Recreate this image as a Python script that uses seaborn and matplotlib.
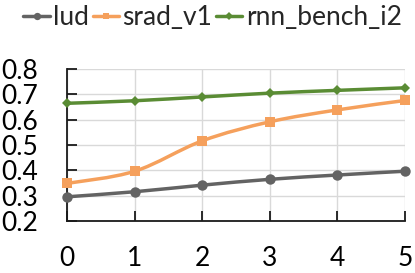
import numpy as np
import pandas as pd
import seaborn as sns
import matplotlib.pyplot as plt
from matplotlib.path import Path
from matplotlib.patches import PathPatch
from matplotlib.lines import Line2D

# values
steps = [0, 1, 2, 3, 4, 5]
lud = [0.296, 0.316, 0.342, 0.365, 0.382, 0.397]
srad_v1 = [0.349, 0.397, 0.517, 0.592, 0.639, 0.676]
rnn_bench_i2 = [0.665, 0.675, 0.690, 0.705, 0.716, 0.726]
series_names = ['lud', 'srad_v1', 'rnn_bench_i2']
y_ticks = [0.2, 0.3, 0.4, 0.5, 0.6, 0.7, 0.8]

colors = {'lud': '#636363', 'srad_v1': '#F5A05C', 'rnn_bench_i2': '#5A8C34'}
markers = {'lud': 'o', 'srad_v1': 's', 'rnn_bench_i2': 'D'}
msizes = {'lud': 7.5, 'srad_v1': 7.0, 'rnn_bench_i2': 5.5}

df = pd.DataFrame({'step': steps * 3,
                   'value': lud + srad_v1 + rnn_bench_i2,
                   'series': np.repeat(series_names, len(steps))})

sns.set_theme(style='white')
plt.rcParams['font.family'] = ['Lato', 'DejaVu Sans']

fig = plt.figure(figsize=(4.15, 2.73), dpi=100)
ax = fig.add_axes([0.162, 0.19, 0.814, 0.557])


def smooth_path(xs, ys):
    # Excel-style smoothed line (Catmull-Rom as cubic bezier)
    pts = np.column_stack([xs, ys]).astype(float)
    verts = [pts[0]]
    codes = [Path.MOVETO]
    n = len(pts)
    for i in range(n - 1):
        p0 = pts[max(i - 1, 0)]
        p1 = pts[i]
        p2 = pts[i + 1]
        p3 = pts[min(i + 2, n - 1)]
        c1 = p1 + (p2 - p0) / 6.0
        c2 = p2 - (p3 - p1) / 6.0
        verts += [c1, c2, p2]
        codes += [Path.CURVE4] * 3
    return Path(verts, codes)


for name in series_names:
    sub = df[df['series'] == name]
    ax.add_patch(PathPatch(smooth_path(sub['step'], sub['value']),
                           fill=False, edgecolor=colors[name], lw=2.5,
                           capstyle='round', zorder=3))

sns.lineplot(data=df, x='step', y='value', hue='series', style='series',
             palette=colors, markers=markers, dashes=False, linewidth=0,
             markersize=7, markeredgewidth=0, legend=False, ax=ax, zorder=4)
for name, line in zip(series_names, ax.lines):
    line.set_markersize(msizes[name])
    line.set_clip_on(False)

ax.set_xlim(0, 5)
ax.set_ylim(0.2, 0.8)
ax.set_xticks(steps)
ax.set_yticks(y_ticks)
ax.set_yticklabels([f'{t:.1f}' for t in y_ticks])
ax.set_xlabel('')
ax.set_ylabel('')
ax.grid(True, color='#d9d9d9', linewidth=1)
ax.set_axisbelow(True)
sns.despine(ax=ax, top=True, right=True)
for s in ['left', 'bottom']:
    ax.spines[s].set_color('#1a1a1a')
    ax.spines[s].set_linewidth(1.3)
ax.tick_params(axis='both', direction='in', length=7, width=1.3,
               color='#1a1a1a', labelsize=19, labelcolor='black')
ax.tick_params(axis='y', pad=21, left=True)
ax.tick_params(axis='x', pad=18, bottom=True)

handles = [Line2D([], [], color=colors[n], lw=2.5, marker=markers[n],
                  markersize=msizes[n] * 0.7, markeredgewidth=0)
           for n in series_names]
fig.legend(handles, series_names, loc='center', bbox_to_anchor=(0.512, 0.935),
           ncol=3, frameon=False, fontsize=19, handlelength=1.0,
           handletextpad=0.12, columnspacing=0.15, borderaxespad=0)

fig.savefig('out.png', dpi=100)
